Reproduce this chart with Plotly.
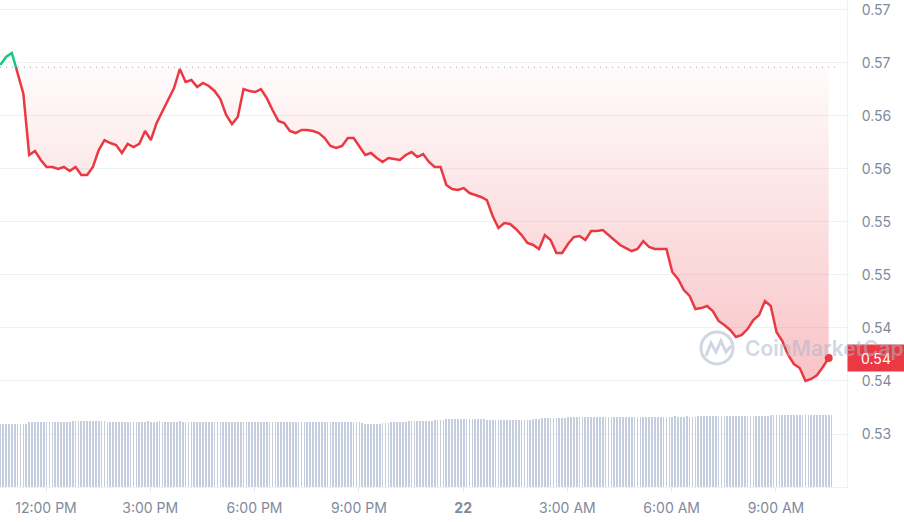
import math
import pandas as pd
import plotly.graph_objects as go

# ---------------- data ----------------
START = "2024-07-21 10:41"          # first 10-min price sample
VOL_START = "2024-07-21 10:41"      # first 5-min volume bar
OPEN_PRICE = 0.5696                 # reference (dotted) level

price = [
    0.56981, 0.57056, 0.57094, 0.56905, 0.56707, 0.56132, 0.56170, 0.56085, 0.56019, 0.56019,
    0.56000, 0.56019, 0.55981, 0.56019, 0.55943, 0.55943, 0.56019, 0.56179, 0.56273, 0.56245,
    0.56226, 0.56151, 0.56236, 0.56207, 0.56236, 0.56358, 0.56273, 0.56434, 0.56547, 0.56660,
    0.56764, 0.56943, 0.56820, 0.56839, 0.56773, 0.56811, 0.56783, 0.56736, 0.56660, 0.56509,
    0.56424, 0.56490, 0.56754, 0.56736, 0.56726, 0.56754, 0.56670, 0.56556, 0.56453, 0.56434,
    0.56358, 0.56339, 0.56368, 0.56368, 0.56358, 0.56339, 0.56292, 0.56217, 0.56198, 0.56217,
    0.56292, 0.56292, 0.56207, 0.56132, 0.56151, 0.56103, 0.56066, 0.56103, 0.56094, 0.56085,
    0.56132, 0.56160, 0.56113, 0.56141, 0.56066, 0.56019, 0.56019, 0.55849, 0.55811, 0.55802,
    0.55820, 0.55773, 0.55754, 0.55736, 0.55707, 0.55556, 0.55443, 0.55490, 0.55481, 0.55434,
    0.55377, 0.55302, 0.55283, 0.55245, 0.55377, 0.55330, 0.55207, 0.55207, 0.55292, 0.55358,
    0.55368, 0.55330, 0.55415, 0.55415, 0.55424, 0.55377, 0.55330, 0.55283, 0.55254, 0.55226,
    0.55245, 0.55320, 0.55264, 0.55245, 0.55245, 0.55245, 0.55028, 0.54962, 0.54858, 0.54802,
    0.54679, 0.54688, 0.54707, 0.54660, 0.54566, 0.54528, 0.54481, 0.54415, 0.54434, 0.54490,
    0.54575, 0.54622, 0.54754, 0.54707, 0.54462, 0.54377, 0.54245, 0.54160, 0.54122, 0.54000,
    0.54019, 0.54056, 0.54132, 0.54217,
]

volume = [  # millions, 5-min bars (one row = one hour)
    6.30, 6.30, 6.30, 6.30, 6.30, 6.30, 6.30, 6.30, 6.30, 6.30, 6.48, 6.50,
    6.50, 6.51, 6.50, 6.52, 6.50, 6.51, 6.50, 6.52, 6.51, 6.50, 6.52, 6.53,
    6.55, 6.58, 6.60, 6.60, 6.62, 6.60, 6.61, 6.63, 6.60, 6.62, 6.61, 6.60,
    6.58, 6.55, 6.55, 6.54, 6.55, 6.53, 6.55, 6.54, 6.55, 6.53, 6.52, 6.54,
    6.53, 6.55, 6.54, 6.56, 6.55, 6.54, 6.55, 6.56, 6.55, 6.54, 6.53, 6.55,
    6.54, 6.55, 6.56, 6.55, 6.54, 6.53, 6.52, 6.53, 6.54, 6.53, 6.52, 6.53,
    6.52, 6.53, 6.52, 6.51, 6.52, 6.53, 6.52, 6.51, 6.52, 6.52, 6.51, 6.52,
    6.52, 6.51, 6.52, 6.53, 6.52, 6.51, 6.50, 6.51, 6.52, 6.51, 6.50, 6.51,
    6.51, 6.52, 6.51, 6.50, 6.51, 6.52, 6.51, 6.50, 6.51, 6.50, 6.51, 6.52,
    6.51, 6.50, 6.51, 6.52, 6.51, 6.50, 6.51, 6.50, 6.51, 6.52, 6.51, 6.50,
    6.52, 6.50, 6.50, 6.48, 6.46, 6.42, 6.32, 6.30, 6.30, 6.31, 6.32, 6.35,
    6.40, 6.42, 6.45, 6.47, 6.48, 6.50, 6.52, 6.53, 6.55, 6.56, 6.58, 6.60,
    6.60, 6.62, 6.62, 6.63, 6.64, 6.65, 6.66, 6.68, 6.70, 6.75, 6.78, 6.80,
    6.80, 6.81, 6.80, 6.80, 6.82, 6.80, 6.80, 6.79, 6.80, 6.81, 6.80, 6.78,
    6.72, 6.70, 6.70, 6.71, 6.70, 6.70, 6.69, 6.70, 6.71, 6.70, 6.70, 6.71,
    6.70, 6.72, 6.73, 6.75, 6.78, 6.80, 6.85, 6.88, 6.90, 6.90, 6.91, 6.90,
    6.90, 6.92, 6.93, 6.95, 6.97, 6.98, 7.00, 7.02, 7.03, 7.03, 7.03, 7.03,
    7.03, 7.04, 7.03, 7.03, 7.04, 7.03, 7.02, 7.03, 7.04, 7.03, 7.03, 7.04,
    7.03, 7.04, 7.04, 7.03, 7.04, 7.05, 7.04, 7.03, 7.04, 7.05, 7.04, 7.05,
    7.04, 7.05, 7.05, 7.04, 7.05, 7.06, 7.05, 7.04, 7.05, 7.06, 7.05, 7.05,
    7.05, 7.08, 7.10, 7.10, 7.11, 7.10, 7.10, 7.11, 7.10, 7.10, 7.11, 7.10,
    7.10, 7.11, 7.10, 7.10, 7.11, 7.10, 7.11, 7.10, 7.10, 7.11, 7.10, 7.11,
    7.12, 7.15, 7.18, 7.20, 7.20, 7.21, 7.20, 7.20, 7.21, 7.20, 7.20, 7.21,
    7.20, 7.21, 7.20, 7.20, 7.21, 7.20, 7.21, 7.20, 7.20, 7.21, 7.20, 7.21,
]

x_tick_vals = ["2024-07-21 12:00", "2024-07-21 15:00", "2024-07-21 18:00", "2024-07-21 21:00",
               "2024-07-22 00:00", "2024-07-22 03:00", "2024-07-22 06:00", "2024-07-22 09:00"]
x_tick_text = ["12:00 PM", "3:00 PM", "6:00 PM", "9:00 PM", "<b>22</b>", "3:00 AM", "6:00 AM", "9:00 AM"]
y_tick_vals = [0.535, 0.540, 0.545, 0.550, 0.555, 0.560, 0.565, 0.570, 0.575]
y_tick_text = ["0.53", "0.54", "0.54", "0.55", "0.55", "0.56", "0.56", "0.57", "0.57"]

X_RANGE = ["2024-07-21 10:40:36", "2024-07-22 11:02:38"]
Y_RANGE = [0.5300, 0.57594]

# ---------------- styles ----------------
RED = "#ea3943"
GREEN = "#16c784"
GREY = "#808a9d"
GRID = "#eff2f5"
FONT = "Inter"
WM = "rgba(170,182,204,0.55)"

times = list(pd.date_range(START, periods=len(price), freq="10min"))
vtimes = pd.date_range(VOL_START, periods=len(volume), freq="5min")

# split line at crossings of the reference level
xs, ys = [], []
for k in range(len(price)):
    if k > 0 and (price[k - 1] - OPEN_PRICE) * (price[k] - OPEN_PRICE) < 0:
        f = (OPEN_PRICE - price[k - 1]) / (price[k] - price[k - 1])
        xs.append(times[k - 1] + (times[k] - times[k - 1]) * f)
        ys.append(OPEN_PRICE)
    xs.append(times[k])
    ys.append(price[k])
up = [y if y >= OPEN_PRICE else None for y in ys]
dn = [y if y <= OPEN_PRICE else None for y in ys]
clipped = [min(y, OPEN_PRICE) for y in ys]

fig = go.Figure()

fig.add_trace(go.Bar(x=vtimes, y=volume, yaxis="y2", width=75000,
                     marker=dict(color="#c4cedf", line=dict(width=0)), hoverinfo="skip"))

fig.add_trace(go.Scatter(x=xs, y=[OPEN_PRICE] * len(xs), mode="lines",
                         line=dict(width=0), hoverinfo="skip"))
fig.add_trace(go.Scatter(x=xs, y=clipped, mode="lines", line=dict(width=0),
                         fill="tonexty",
                         fillgradient=dict(type="vertical",
                                           colorscale=[[0, "rgba(234,57,67,0.30)"],
                                                       [1, "rgba(234,57,67,0.02)"]]),
                         hoverinfo="skip"))
fig.add_trace(go.Scatter(x=xs, y=up, mode="lines", line=dict(color=GREEN, width=2.5),
                         connectgaps=False))
fig.add_trace(go.Scatter(x=xs, y=dn, mode="lines", line=dict(color=RED, width=2.5),
                         connectgaps=False))
fig.add_trace(go.Scatter(x=[times[-1]], y=[price[-1]], mode="markers",
                         marker=dict(color=RED, size=8)))

# reference dotted line
fig.add_shape(type="line", xref="paper", x0=0, x1=0.99, yref="y", y0=OPEN_PRICE, y1=OPEN_PRICE,
              line=dict(color="#9aa2b1", width=1, dash="1px,5px"))

# current price label
last_label = f"{math.floor(price[-1] * 100) / 100:.2f}"
fig.add_annotation(x=1, xref="paper", xanchor="left", y=price[-1], yref="y", yanchor="middle",
                   text=last_label, showarrow=False, bgcolor=RED, width=54, height=24,
                   borderpad=1, font=dict(color="white", size=14, family=FONT))

# watermark
fig.add_shape(type="circle", xref="paper", yref="paper",
              x0=0.8276, x1=0.8654, y0=0.2526, y1=0.3183,
              line=dict(color=WM, width=3))
fig.add_shape(type="path", xref="paper", yref="paper",
              path="M0.8335,0.2690 L0.8394,0.2957 L0.8453,0.2772 L0.8512,0.2998 L0.8571,0.2772 L0.8630,0.2895",
              line=dict(color=WM, width=3))
fig.add_annotation(x=0.8772, xref="paper", xanchor="left", y=0.2854, yref="paper", yanchor="middle",
                   text="CoinMarketCap", showarrow=False,
                   font=dict(color=WM, size=21, family=FONT, weight=600))

fig.update_layout(
    width=904, height=522,
    margin=dict(l=0, r=57, t=0, b=35, autoexpand=False),
    paper_bgcolor="white", plot_bgcolor="white",
    showlegend=False,
    font=dict(family=FONT, color=GREY, size=14),
    xaxis=dict(type="date", range=X_RANGE, tickvals=x_tick_vals, ticktext=x_tick_text,
               showgrid=False, zeroline=False, showline=True, linecolor=GRID, linewidth=1,
               ticks="outside", ticklen=4, tickcolor="#e3e7ee",
               tickfont=dict(size=14, color=GREY, family=FONT), ticklabelstandoff=4),
    yaxis=dict(side="right", range=Y_RANGE, tickvals=y_tick_vals, ticktext=y_tick_text,
               showgrid=True, gridcolor=GRID, gridwidth=1, zeroline=False,
               showline=True, linecolor=GRID, linewidth=1, ticks="",
               tickfont=dict(size=14, color=GREY, family=FONT), ticklabelstandoff=11),
    yaxis2=dict(overlaying="y", range=[0, 48.7], visible=False),
    bargap=0,
)

fig.write_html("out.html", config={"displayModeBar": False},
               post_script="document.body.style.margin='0';")
